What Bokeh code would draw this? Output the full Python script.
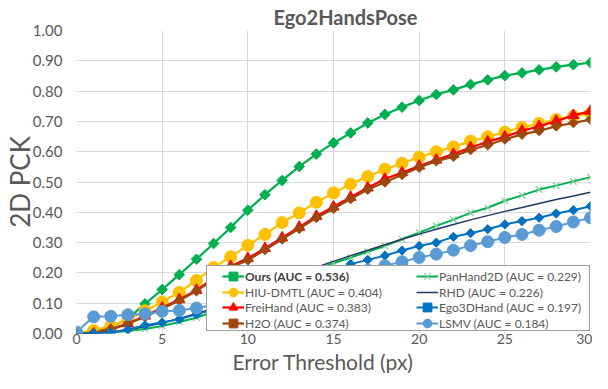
from bokeh.plotting import figure
from bokeh.models import Legend, LegendItem, Range1d, FixedTicker, NumeralTickFormatter, Title
from bokeh.embed import file_html
from bokeh.resources import INLINE

thresholds = list(range(0, 31))
ours = [0.0, 0.005, 0.02, 0.05, 0.098, 0.145, 0.194, 0.245, 0.297, 0.35, 0.407,
        0.458, 0.505, 0.551, 0.592, 0.629, 0.662, 0.695, 0.723, 0.747, 0.769,
        0.789, 0.804, 0.822, 0.837, 0.851, 0.86, 0.87, 0.88, 0.887, 0.894]
hiu_dmtl = [0.0, 0.01, 0.025, 0.045, 0.075, 0.104, 0.136, 0.175, 0.218, 0.253, 0.291,
            0.327, 0.366, 0.398, 0.433, 0.464, 0.493, 0.518, 0.542, 0.562, 0.582,
            0.6, 0.616, 0.635, 0.649, 0.665, 0.68, 0.693, 0.706, 0.717, 0.726]
freihand = [0.0, 0.0, 0.012, 0.033, 0.058, 0.085, 0.112, 0.143, 0.182, 0.222, 0.248,
            0.281, 0.316, 0.351, 0.387, 0.418, 0.45, 0.481, 0.51, 0.531, 0.553,
            0.573, 0.592, 0.614, 0.633, 0.649, 0.669, 0.684, 0.701, 0.72, 0.734]
h2o = [0.0, 0.003, 0.015, 0.033, 0.055, 0.082, 0.109, 0.14, 0.178, 0.218, 0.242,
       0.276, 0.311, 0.346, 0.382, 0.412, 0.444, 0.475, 0.499, 0.524, 0.548,
       0.569, 0.584, 0.606, 0.622, 0.641, 0.657, 0.669, 0.684, 0.695, 0.706]
panhand2d = [0.0, 0.0, 0.003, 0.008, 0.015, 0.025, 0.038, 0.052, 0.072, 0.093, 0.115,
             0.138, 0.162, 0.187, 0.212, 0.232, 0.251, 0.27, 0.289, 0.311, 0.333,
             0.355, 0.376, 0.398, 0.415, 0.438, 0.456, 0.475, 0.488, 0.502, 0.516]
rhd = [0.0, 0.0, 0.005, 0.012, 0.022, 0.035, 0.05, 0.066, 0.083, 0.101, 0.12,
       0.14, 0.16, 0.197, 0.219, 0.238, 0.257, 0.275, 0.293, 0.311, 0.328,
       0.344, 0.36, 0.375, 0.389, 0.403, 0.416, 0.429, 0.442, 0.454, 0.466]
ego3dhand = [0.0, 0.0, 0.003, 0.013, 0.027, 0.036, 0.047, 0.063, 0.08, 0.097, 0.115,
             0.133, 0.152, 0.171, 0.19, 0.209, 0.229, 0.243, 0.257, 0.274, 0.289,
             0.3, 0.319, 0.331, 0.344, 0.36, 0.371, 0.382, 0.396, 0.407, 0.42]
lsmv = [0.005, 0.055, 0.057, 0.062, 0.065, 0.073, 0.076, 0.084, 0.094, 0.104, 0.115,
        0.127, 0.14, 0.153, 0.167, 0.181, 0.195, 0.209, 0.224, 0.237, 0.251,
        0.262, 0.275, 0.29, 0.303, 0.317, 0.327, 0.341, 0.353, 0.368, 0.382]

x_ticks = [0, 5, 10, 15, 20, 25, 30]
y_ticks = [0.0, 0.1, 0.2, 0.3, 0.4, 0.5, 0.6, 0.7, 0.8, 0.9, 1.0]

FONT = "Lato"
TXT = "#595959"
GRID = "#D9D9D9"

p = figure(width=592, height=373, output_backend="svg", toolbar_location=None,
           x_range=Range1d(0, 30), y_range=Range1d(0, 1),
           min_border_left=69, min_border_right=2, min_border_top=21, min_border_bottom=40)
p.outline_line_color = None
p.background_fill_color = "white"

p.title.text = "Ego2HandsPose"
p.title.align = "left"
p.title.offset = 197
p.title.text_font = FONT
p.title.text_font_size = "20px"
p.title.text_font_style = "bold"
p.title.text_color = TXT
p.title.standoff = 4

for ax in (p.xaxis, p.yaxis):
    ax.axis_line_color = None
    ax.major_tick_line_color = None
    ax.minor_tick_line_color = None
    ax.major_tick_out = 0
    ax.major_tick_in = 0
    ax.minor_tick_out = 0
    ax.major_label_text_font = FONT
    ax.major_label_text_color = TXT
    ax.axis_label_text_font = FONT
    ax.axis_label_text_font_style = "normal"
    ax.axis_label_text_color = TXT

p.xaxis.major_label_text_font_size = "14px"
p.yaxis.major_label_text_font_size = "15px"
p.yaxis.axis_label_text_font_size = "26px"
p.xaxis.ticker = FixedTicker(ticks=x_ticks)
p.yaxis.ticker = FixedTicker(ticks=y_ticks)
p.yaxis.formatter = NumeralTickFormatter(format="0.00")
p.yaxis.axis_label = "2D PCK"
p.xaxis.major_label_standoff = 0
p.yaxis.major_label_standoff = 14
p.yaxis.axis_label_standoff = -6

# x axis title as a panel below the tick labels
x_title = Title(text="Error Threshold (px)", align="left", offset=156,
                text_font=FONT, text_font_size="21px", text_font_style="normal",
                text_color=TXT, standoff=0)
p.add_layout(x_title, "below")

p.grid.grid_line_color = GRID
p.grid.grid_line_width = 1

D = 0.7854  # 45 degrees for diamond markers

series = [
    ("Ours (AUC = 0.536)", ours, "#00B050", 2.25, "square", 7.5, "#00B050", "#00B050", D),
    ("HIU-DMTL (AUC = 0.404)", hiu_dmtl, "#FFC000", 2.25, "circle", 12, "#FFC000", "#FFC000", 0),
    ("FreiHand (AUC = 0.383)", freihand, "#FF0000", 2.25, "triangle", 11, "#FF0000", "#FF0000", 0),
    ("H2O (AUC = 0.374)", h2o, "#9E480E", 2.25, "square", 7, "#9E480E", "#9E480E", D),
    ("PanHand2D (AUC = 0.229)", panhand2d, "#00B050", 2.0, "x", 9, None, "#7FD08F", 0),
    ("RHD (AUC = 0.226)", rhd, "#203864", 1.5, None, 0, None, None, 0),
    ("Ego3DHand (AUC = 0.197)", ego3dhand, "#0070C0", 2.0, "square", 6.5, "#0070C0", "#0070C0", D),
    ("LSMV (AUC = 0.184)", lsmv, "#5B9BD5", 2.0, "circle", 12, "#5B9BD5", "#5B9BD5", 0),
]

renderers = []
for name, ys, col, lw, mk, ms, fc, mc, ang in series:
    rs = [p.line(thresholds, ys, line_color=col, line_width=lw)]
    if mk is not None:
        if mk == "x":
            rs.append(p.scatter(thresholds, ys, marker="x", size=ms, line_color=mc, line_width=1.2))
        else:
            rs.append(p.scatter(thresholds, ys, marker=mk, size=ms, fill_color=fc,
                                line_color=mc, angle=ang, line_width=1))
    renderers.append((name, rs))

# legend frame (border + white background only)
box = Legend(items=[LegendItem(label=" ", renderers=[])], location=(130, 2))
box.padding = 2
box.spacing = 0
box.margin = 0
box.glyph_width = 30
box.glyph_height = 60
box.label_height = 60
box.label_width = 345
box.label_standoff = 3
box.label_text_font_size = "2px"
box.border_line_color = "#404040"
box.border_line_width = 1.5
box.background_fill_color = "white"
box.background_fill_alpha = 1.0
p.add_layout(box)

row_y = [44.7, 29.0, 13.7, -2.0]
col_x = [146, 340]


def item_legend(name, rs, x, y, bold=False):
    lg = Legend(items=[LegendItem(label=name, renderers=rs)], location=(x, y))
    lg.padding = 0
    lg.spacing = 0
    lg.margin = 0
    lg.glyph_width = 22
    lg.glyph_height = 24
    lg.label_height = 24
    lg.label_width = 20
    lg.label_standoff = 1
    lg.label_text_font = FONT
    lg.label_text_font_size = "12px"
    lg.label_text_color = "#404040" if bold else TXT
    lg.label_text_font_style = "bold" if bold else "normal"
    lg.label_text_baseline = "middle"
    lg.border_line_color = None
    lg.background_fill_alpha = 0.0
    return lg


for i, (name, rs) in enumerate(renderers):
    col, row = divmod(i, 4)
    p.add_layout(item_legend(name, rs, col_x[col], row_y[row], bold=(i == 0)))

open("out.html", "w").write(file_html(p, INLINE))
